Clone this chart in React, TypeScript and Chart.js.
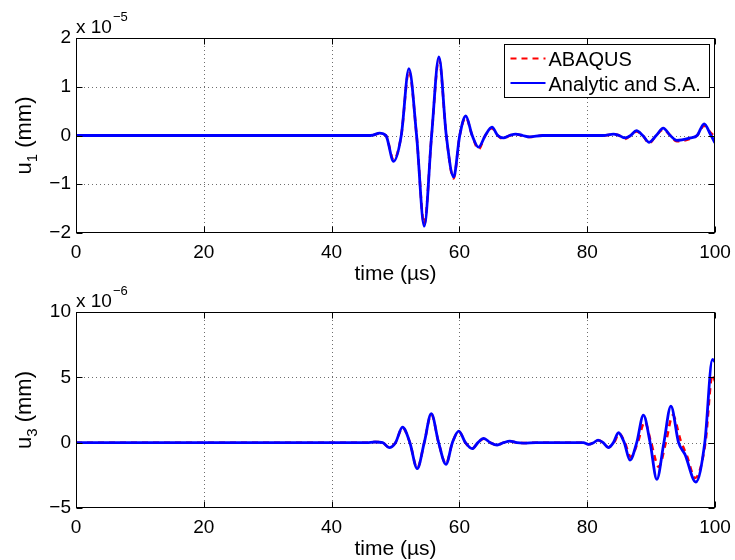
import { useEffect, useRef } from 'react';
import { Chart, registerables } from 'chart.js';

Chart.register(...registerables);

// ---------- data ----------
const xTicks = [0, 20, 40, 60, 80, 100];
const u1YTicks = [-2, -1, 0, 1, 2];
const u3YTicks = [-5, 0, 5, 10];

// top panel (u1, units of 1e-5 mm)
const u1Time = [
  0, 20, 40, 45.5, 46.5, 47.5, 48.5, 49.7, 50.9, 52.1, 53.3, 54.5, 55.65, 56.8, 57.95, 59.1,
  60.05, 61.0, 62.0, 63.0, 64.05, 65.1, 66.0, 66.9, 67.85, 68.8, 69.9, 71.0, 73.0, 80.0,
  82.5, 84.1, 85.0, 85.9, 86.8, 87.7, 88.7, 89.7, 90.8, 91.9, 93.0, 94.0, 96.1, 97.2, 98.3,
  99.3, 100,
];
const u1Analytic = [
  0, 0, 0, 0, 0.01, 0.05, 0, -0.53, 0, 1.37, 0, -1.86, 0, 1.61, 0, -0.85,
  0, 0.4, 0, -0.24, 0, 0.17, 0, -0.05, 0, 0.03, 0, -0.03, 0, 0,
  0, 0.03, 0, -0.05, 0, 0.1, 0, -0.14, 0, 0.15, 0, -0.1, -0.05, 0, 0.24,
  0.02, -0.15,
];
const u1Abaqus = [
  0, 0, 0, 0, 0.01, 0.04, 0, -0.5, 0, 1.33, 0, -1.82, 0, 1.57, 0, -0.88,
  0, 0.37, 0, -0.28, 0, 0.15, 0, -0.07, 0, 0.02, 0, -0.03, 0, 0,
  0, 0.02, 0, -0.07, 0, 0.08, 0, -0.16, 0, 0.12, 0, -0.12, -0.07, 0, 0.2,
  0.06, -0.03,
];

// bottom panel (u3, units of 1e-6 mm)
const u3AnalyticTime = [
  0, 20, 40, 45.5, 46.8, 48.0, 49.0, 50.0, 51.1, 52.25, 53.4, 54.5, 55.6, 56.75, 57.9, 58.9,
  59.9, 60.95, 62.0, 62.9, 63.8, 64.85, 65.9, 66.9, 67.9, 69.0, 70.0, 72.0, 78.0, 79.4,
  80.2, 81.0, 81.7, 82.5, 83.3, 84.1, 84.9, 85.8, 86.7, 87.75, 88.8, 89.85, 90.9, 92.0,
  93.1, 94.3, 95.3, 97.0, 98.4, 99.6, 100,
];
const u3Analytic = [
  0, 0, 0, 0, 0.05, 0, -0.38, 0, 1.19, 0, -1.99, 0, 2.22, 0, -1.66, 0,
  0.89, 0, -0.46, 0, 0.33, 0, -0.18, 0, 0.12, 0, -0.03, 0, 0, 0,
  -0.13, 0, 0.2, 0, -0.38, 0, 0.76, 0, -1.33, 0, 2.11, 0, -2.81, 0,
  2.8, 0, -0.9, -3.01, 0, 6.37, 6.2,
];
const u3AbaqusTime = [
  0, 20, 40, 45.5, 46.8, 48.0, 49.0, 50.0, 51.1, 52.25, 53.4, 54.5, 55.6, 56.75, 57.9, 58.9,
  59.9, 60.95, 62.0, 62.9, 63.8, 64.85, 65.9, 66.9, 67.9, 69.0, 70.0, 72.0, 78.0, 79.4,
  80.2, 81.0, 81.7, 82.5, 83.3, 84.2, 85.0, 85.9, 86.8, 87.9, 89.0, 90.0, 91.2, 92.3,
  93.4, 94.6, 95.6, 96.9, 98.5, 99.6, 100,
];
const u3Abaqus = [
  0, 0, 0, 0, 0.05, 0, -0.36, 0, 1.15, 0, -1.95, 0, 2.18, 0, -1.62, 0,
  0.86, 0, -0.45, 0, 0.3, 0, -0.17, 0, 0.1, 0, -0.03, 0, 0, 0,
  -0.12, 0, 0.18, 0, -0.35, 0, 0.7, 0, -1.1, 0, 1.6, 0, -1.85, 0,
  2.1, 0.2, -1.0, -2.7, 0, 5.2, 4.7,
];

const legendLabels = ['ABAQUS', 'Analytic and S.A.'];

// ---------- styling ----------
const FONT = '"Liberation Sans", Arial, Helvetica, sans-serif';
const RED = '#ff0000';
const BLUE = '#0000ff';

const fmt = (v: number) => (v < 0 ? '\u2212' + Math.abs(v) : String(v));

type PanelOpts = {
  time: number[];
  analytic: number[];
  abaqusTime: number[];
  abaqus: number[];
  yTicks: number[];
  exponent: string;
  sub: string;
  padTop: number;
  xHeight: number;
  legend: boolean;
};

function makePlugin(o: PanelOpts) {
  return {
    id: 'matlabAxes',
    beforeDatasetsDraw(chart: any) {
      const { ctx, chartArea: a, scales } = chart;
      ctx.save();
      ctx.strokeStyle = '#6e6e6e';
      ctx.lineWidth = 1;
      ctx.setLineDash([1, 3]);
      for (const t of scales.x.ticks) {
        const px = Math.round(scales.x.getPixelForValue(t.value)) + 0.5;
        if (px <= a.left + 2 || px >= a.right - 2) continue;
        ctx.beginPath();
        ctx.moveTo(px, a.top);
        ctx.lineTo(px, a.bottom);
        ctx.stroke();
      }
      for (const t of scales.y.ticks) {
        const py = Math.round(scales.y.getPixelForValue(t.value)) + 0.5;
        if (py <= a.top + 2 || py >= a.bottom - 2) continue;
        ctx.beginPath();
        ctx.moveTo(a.left, py);
        ctx.lineTo(a.right, py);
        ctx.stroke();
      }
      ctx.restore();
    },
    afterDatasetsDraw(chart: any) {
      const { ctx, chartArea: a, scales } = chart;
      ctx.save();
      ctx.strokeStyle = '#000';
      ctx.lineWidth = 1;
      ctx.setLineDash([]);
      const L = Math.round(a.left) + 0.5;
      const R = Math.round(a.right) - 0.5;
      const T = Math.round(a.top) + 0.5;
      const B = Math.round(a.bottom) - 0.5;
      ctx.strokeRect(L, T, R - L, B - T);
      const tl = 6;
      ctx.beginPath();
      for (const t of scales.x.ticks) {
        const px = Math.round(scales.x.getPixelForValue(t.value)) + 0.5;
        ctx.moveTo(px, B);
        ctx.lineTo(px, B - tl);
        ctx.moveTo(px, T);
        ctx.lineTo(px, T + tl);
      }
      for (const t of scales.y.ticks) {
        const py = Math.round(scales.y.getPixelForValue(t.value)) + 0.5;
        ctx.moveTo(L, py);
        ctx.lineTo(L + tl, py);
        ctx.moveTo(R, py);
        ctx.lineTo(R - tl, py);
      }
      ctx.stroke();
      ctx.restore();
    },
    afterDraw(chart: any) {
      const { ctx, chartArea: a } = chart;
      ctx.save();
      ctx.fillStyle = '#000';
      // exponent label
      ctx.textAlign = 'left';
      ctx.textBaseline = 'alphabetic';
      ctx.font = `19px ${FONT}`;
      const base = 'x 10';
      ctx.fillText(base, a.left, a.top - 5);
      const bw = ctx.measureText(base).width;
      ctx.font = `13px ${FONT}`;
      ctx.fillText(o.exponent, a.left + bw + 1, a.top - 17);

      // x title
      ctx.font = `21px ${FONT}`;
      ctx.textAlign = 'center';
      ctx.fillText('time (\u00b5s)', (a.left + a.right) / 2, a.bottom + 47);

      // y title with subscript
      const cy = (a.top + a.bottom) / 2;
      ctx.translate(31, cy);
      ctx.rotate(-Math.PI / 2);
      ctx.textAlign = 'left';
      ctx.font = `22px ${FONT}`;
      const w1 = ctx.measureText('u').width;
      const w3 = ctx.measureText(' (mm)').width;
      ctx.font = `15px ${FONT}`;
      const w2 = ctx.measureText(o.sub).width;
      const start = -(w1 + w2 + w3) / 2;
      ctx.font = `22px ${FONT}`;
      ctx.fillText('u', start, 0);
      ctx.font = `15px ${FONT}`;
      ctx.fillText(o.sub, start + w1, 6);
      ctx.font = `22px ${FONT}`;
      ctx.fillText(' (mm)', start + w1 + w2, 0);
      ctx.setTransform(1, 0, 0, 1, 0, 0);

      // legend
      if (o.legend) {
        const bx = Math.round(a.right) - 6 - 205 + 0.5;
        const by = Math.round(a.top) + 6 + 0.5;
        ctx.fillStyle = '#fff';
        ctx.fillRect(bx, by, 205, 53);
        ctx.strokeStyle = '#000';
        ctx.lineWidth = 1;
        ctx.strokeRect(bx, by, 205, 53);
        const rows = [
          { y: by + 14, color: RED, dash: [6, 5] },
          { y: by + 38.5, color: BLUE, dash: [] as number[] },
        ];
        rows.forEach((r, i) => {
          ctx.strokeStyle = r.color;
          ctx.lineWidth = 2;
          ctx.setLineDash(r.dash);
          ctx.beginPath();
          ctx.moveTo(bx + 6, r.y);
          ctx.lineTo(bx + 41, r.y);
          ctx.stroke();
          ctx.setLineDash([]);
          ctx.fillStyle = '#000';
          ctx.font = `20px ${FONT}`;
          ctx.textAlign = 'left';
          ctx.textBaseline = 'alphabetic';
          ctx.fillText(legendLabels[i], bx + 44, r.y + 7.5);
        });
      }
      ctx.restore();
    },
  };
}

function makeConfig(o: PanelOpts): any {
  return {
    type: 'line',
    data: {
      datasets: [
        {
          label: legendLabels[0],
          data: o.abaqusTime.map((t, i) => ({ x: t, y: o.abaqus[i] })),
          borderColor: RED,
          borderWidth: 2.5,
          borderDash: [6, 5],
          pointRadius: 0,
          cubicInterpolationMode: 'monotone',
          order: 1,
        },
        {
          label: legendLabels[1],
          data: o.time.map((t, i) => ({ x: t, y: o.analytic[i] })),
          borderColor: BLUE,
          borderWidth: 2.8,
          pointRadius: 0,
          cubicInterpolationMode: 'monotone',
          order: 0,
        },
      ],
    },
    options: {
      responsive: false,
      devicePixelRatio: 1,
      animation: false,
      events: [],
      layout: { padding: { top: o.padTop, right: 20, left: 0, bottom: 0 } },
      plugins: { legend: { display: false }, tooltip: { enabled: false } },
      scales: {
        x: {
          type: 'linear',
          min: 0,
          max: 100,
          afterBuildTicks: (s: any) => {
            s.ticks = xTicks.map((v) => ({ value: v }));
          },
          afterFit: (s: any) => {
            s.height = o.xHeight;
            s.paddingLeft = 0;
            s.paddingRight = 0;
          },
          grid: { display: false, drawTicks: false, tickLength: 0 },
          border: { display: false },
          ticks: {
            color: '#000',
            font: { family: FONT, size: 19 },
            padding: 8,
            maxRotation: 0,
            autoSkip: false,
            callback: (v: number) => fmt(v),
          },
        },
        y: {
          type: 'linear',
          min: o.yTicks[0],
          max: o.yTicks[o.yTicks.length - 1],
          afterBuildTicks: (s: any) => {
            s.ticks = o.yTicks.map((v) => ({ value: v }));
          },
          afterFit: (s: any) => {
            s.width = 76;
            s.paddingTop = 0;
            s.paddingBottom = 0;
          },
          grid: { display: false, drawTicks: false, tickLength: 0 },
          border: { display: false },
          ticks: {
            color: '#000',
            font: { family: FONT, size: 19 },
            padding: 5,
            autoSkip: false,
            callback: (v: number) => fmt(v),
          },
        },
      },
    },
    plugins: [makePlugin(o)],
  };
}

export default function App() {
  const topRef = useRef<HTMLCanvasElement>(null);
  const botRef = useRef<HTMLCanvasElement>(null);

  useEffect(() => {
    const c1 = new Chart(
      topRef.current as HTMLCanvasElement,
      makeConfig({
        time: u1Time,
        analytic: u1Analytic,
        abaqusTime: u1Time,
        abaqus: u1Abaqus,
        yTicks: u1YTicks,
        exponent: '\u22125',
        sub: '1',
        padTop: 38,
        xHeight: 290 - 233,
        legend: true,
      })
    );
    const c2 = new Chart(
      botRef.current as HTMLCanvasElement,
      makeConfig({
        time: u3AnalyticTime,
        analytic: u3Analytic,
        abaqusTime: u3AbaqusTime,
        abaqus: u3Abaqus,
        yTicks: u3YTicks,
        exponent: '\u22126',
        sub: '3',
        padTop: 312 - 275,
        xHeight: 560 - 508,
        legend: false,
      })
    );
    return () => {
      c1.destroy();
      c2.destroy();
    };
  }, []);

  return (
    <div style={{ position: 'fixed', left: 0, top: 0, width: 735, height: 560, background: '#fff' }}>
      <canvas
        ref={topRef}
        width={735}
        height={290}
        style={{ position: 'absolute', left: 0, top: 0, width: 735, height: 290 }}
      />
      <canvas
        ref={botRef}
        width={735}
        height={285}
        style={{ position: 'absolute', left: 0, top: 275, width: 735, height: 285 }}
      />
    </div>
  );
}
